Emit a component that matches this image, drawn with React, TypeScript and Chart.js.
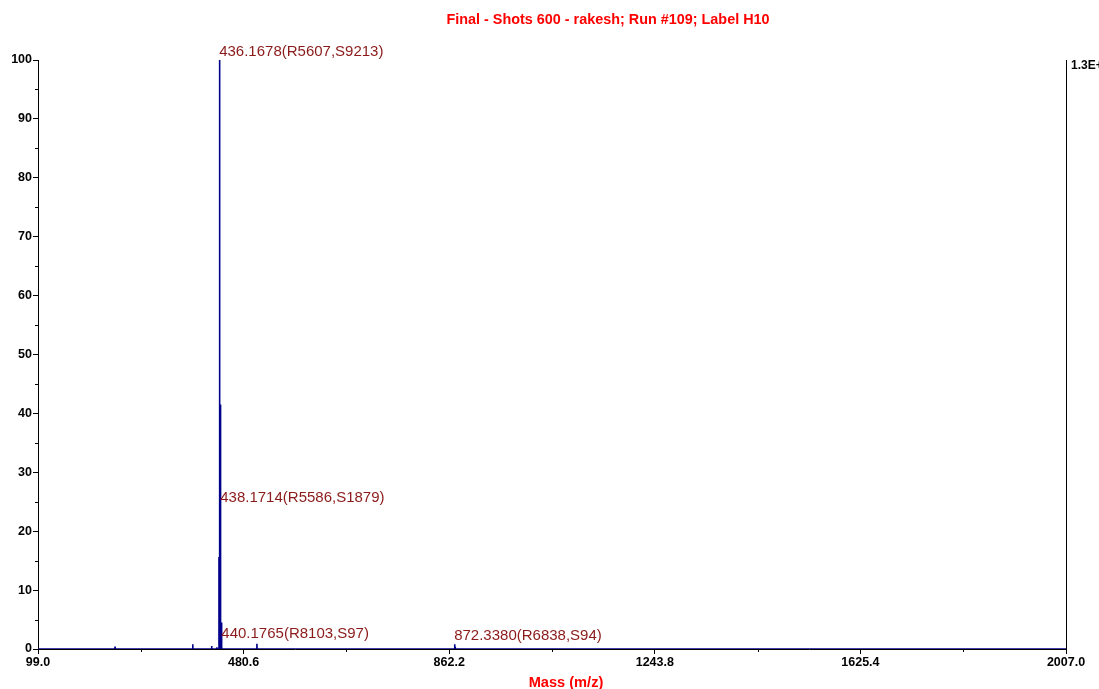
import React, { useEffect, useRef } from "react";
import { Chart, registerables } from "chart.js";

Chart.register(...registerables);

// Spectrum peaks (m/z, relative intensity %)
const peakMz = [242.0, 386.2, 421.3, 431.0, 434.9, 436.1678, 437.17, 438.1714, 439.17, 440.1765, 505.3, 872.338, 873.34];
const peakIntensity = [0.4, 0.8, 0.5, 0.3, 15.6, 100, 41.5, 24.3, 4.5, 1.2, 0.9, 0.8, 0.4];

// Annotated peaks
const labelMz = [436.1678, 438.1714, 440.1765, 872.338];
const labelText = [
  "436.1678(R5607,S9213)",
  "438.1714(R5586,S1879)",
  "440.1765(R8103,S97)",
  "872.3380(R6838,S94)",
];

// Axis settings
const massMin = 99.0;
const massMax = 2007.0;
const massTicks = [99.0, 480.6, 862.2, 1243.8, 1625.4, 2007.0];
const intensityTicks = [0, 10, 20, 30, 40, 50, 60, 70, 80, 90, 100];

const titleText = "Final - Shots 600 - rakesh; Run #109; Label H10";
const xTitleText = "Mass (m/z)";
const maxCountText = "1.3E+4";

const FONT = "'Liberation Sans', Arial, Helvetica, sans-serif";
const NAVY = "#00008B";
const LABEL_RED = "#8B1A1A";

function buildProfile() {
  const pts: { x: number; y: number }[] = [{ x: massMin, y: 0 }];
  peakMz.forEach((m, i) => {
    pts.push({ x: m - 0.3, y: 0 });
    pts.push({ x: m, y: peakIntensity[i] });
    pts.push({ x: m + 0.3, y: 0 });
  });
  pts.push({ x: massMax, y: 0 });
  return pts;
}

const annotations = {
  id: "spectrumText",
  afterDraw(chart: any) {
    const { ctx, chartArea, scales } = chart;
    const xs = scales.x;
    const ys = scales.y;
    ctx.save();

    // minor ticks
    ctx.strokeStyle = "#000";
    ctx.lineWidth = 1;
    for (let i = 0; i < massTicks.length - 1; i++) {
      const px = Math.round(xs.getPixelForValue((massTicks[i] + massTicks[i + 1]) / 2)) + 0.5;
      ctx.beginPath();
      ctx.moveTo(px, chartArea.bottom);
      ctx.lineTo(px, chartArea.bottom + 3);
      ctx.stroke();
    }
    for (let i = 0; i < intensityTicks.length - 1; i++) {
      const py = Math.round(ys.getPixelForValue((intensityTicks[i] + intensityTicks[i + 1]) / 2)) + 0.5;
      ctx.beginPath();
      ctx.moveTo(chartArea.left, py);
      ctx.lineTo(chartArea.left - 3, py);
      ctx.stroke();
    }

    // peak labels
    ctx.font = `15px ${FONT}`;
    ctx.fillStyle = LABEL_RED;
    ctx.textAlign = "left";
    ctx.textBaseline = "bottom";
    labelMz.forEach((m, i) => {
      const idx = peakMz.indexOf(m);
      const h = idx >= 0 ? peakIntensity[idx] : 0;
      const px = xs.getPixelForValue(m);
      const py = ys.getPixelForValue(h);
      ctx.fillText(labelText[i], px - 0.5, py - 0.5);
    });

    // title
    ctx.fillStyle = "#FF0000";
    ctx.font = `bold 14.4px ${FONT}`;
    ctx.textAlign = "center";
    ctx.textBaseline = "middle";
    ctx.fillText(titleText, 608, 20);

    // x axis title
    ctx.font = `bold 14.6px ${FONT}`;
    ctx.fillText(xTitleText, 566, 683);

    // right axis max counts
    ctx.fillStyle = "#000";
    ctx.font = `bold 12px ${FONT}`;
    ctx.textAlign = "left";
    ctx.fillText(maxCountText, chartArea.right + 5, chartArea.top + 6);

    ctx.restore();
  },
};

export default function App() {
  const ref = useRef<HTMLCanvasElement | null>(null);

  useEffect(() => {
    if (!ref.current) return;
    const chart = new Chart(ref.current, {
      type: "line",
      data: {
        datasets: [
          {
            data: buildProfile(),
            borderColor: NAVY,
            borderWidth: 1.6,
            pointRadius: 0,
            tension: 0,
            fill: false,
          },
        ],
      },
      options: {
        animation: false,
        responsive: false,
        maintainAspectRatio: false,
        layout: { padding: { top: 60, left: 0, right: 0, bottom: 0 } },
        plugins: {
          legend: { display: false },
          title: { display: false },
          tooltip: { enabled: false },
        },
        scales: {
          x: {
            type: "linear",
            min: massMin,
            max: massMax,
            afterBuildTicks: (scale: any) => {
              scale.ticks = massTicks.map((v) => ({ value: v }));
            },
            afterFit: (scale: any) => {
              scale.height = 40;
            },
            ticks: {
              autoSkip: false,
              maxRotation: 0,
              padding: 1,
              color: "#000",
              font: { family: FONT, size: 12.5, weight: "bold" },
              callback: (v: any) => Number(v).toFixed(1),
            },
            grid: {
              display: true,
              drawOnChartArea: false,
              drawTicks: true,
              tickLength: 5,
              color: "#000",
              tickColor: "#000",
            },
            border: { display: true, color: "#000", width: 1 },
          },
          y: {
            type: "linear",
            position: "left",
            min: 0,
            max: 100,
            afterBuildTicks: (scale: any) => {
              scale.ticks = intensityTicks.map((v) => ({ value: v }));
            },
            afterFit: (scale: any) => {
              scale.width = 38;
            },
            ticks: {
              autoSkip: false,
              padding: 1,
              color: "#000",
              font: { family: FONT, size: 12.5, weight: "bold" },
            },
            grid: {
              display: true,
              drawOnChartArea: false,
              drawTicks: true,
              tickLength: 5,
              color: "#000",
              tickColor: "#000",
            },
            border: { display: true, color: "#000", width: 1 },
          },
          y2: {
            type: "linear",
            position: "right",
            min: 0,
            max: 100,
            afterFit: (scale: any) => {
              scale.width = 33;
            },
            ticks: { display: false },
            grid: { display: false, drawTicks: false },
            border: { display: true, color: "#000", width: 1 },
          },
        },
      } as any,
      plugins: [annotations],
    });
    return () => chart.destroy();
  }, []);

  return (
    <div style={{ position: "fixed", left: 0, top: 0, width: 1099, height: 689, background: "#fff" }}>
      <canvas ref={ref} width={1099} height={689} style={{ display: "block", width: 1099, height: 689 }} />
    </div>
  );
}
